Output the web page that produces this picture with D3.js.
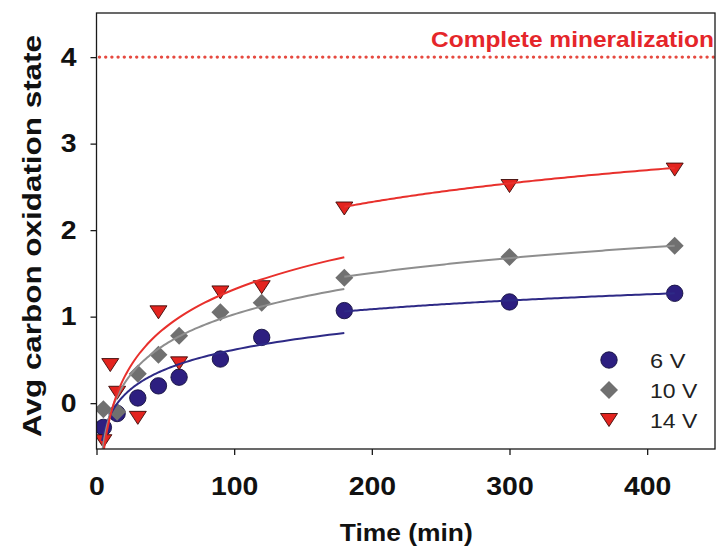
<!DOCTYPE html>
<html>
<head>
<meta charset="utf-8">
<script src="https://cdn.jsdelivr.net/npm/d3@7/dist/d3.min.js"></script>
<style>
  html, body { margin: 0; padding: 0; background: #ffffff; }
  svg { display: block; font-family: "Liberation Sans", Arial, sans-serif; }
</style>
</head>
<body>
<svg id="chart" width="717" height="550"></svg>
<script>
// Sampling times (min)
const timeMain = [5, 15, 30, 45, 60, 90, 120, 180, 300, 420];
const time14 = [5, 10, 15, 30, 45, 60, 90, 120, 180, 300, 420];

// Average carbon oxidation state for each applied voltage
const ox6V  = [-0.28, -0.12, 0.06, 0.20, 0.30, 0.51, 0.76, 1.07, 1.17, 1.27];
const ox10V = [-0.07, -0.10, 0.34, 0.56, 0.78, 1.05, 1.16, 1.45, 1.69, 1.82];
const ox14V = [-0.44, 0.44, 0.12, -0.17, 1.05, 0.46, 1.28, 1.34, 2.25, 2.51, 2.70];

// Logarithmic regression y = a*ln(t) + b, fitted over two time windows
const fitWindows = [[4, 180], [180, 420]];
const fit6V  = [{a: 0.328, b: -0.893}, {a: 0.248, b: -0.228}];
const fit10V = [{a: 0.500, b: -1.276}, {a: 0.425, b: -0.747}];
const fit14V = [{a: 0.635, b: -1.610}, {a: 0.531, b: -0.488}];

const xTicks = [0, 100, 200, 300, 400];
const yTicks = [0, 1, 2, 3, 4];
const mineralizationLevel = 4;

const series = [
  {name: "6 V",  t: timeMain, y: ox6V,  fit: fit6V,  shape: "circle",   fill: "#2d1f80", stroke: "#141040", line: "#2e2a86"},
  {name: "10 V", t: timeMain, y: ox10V, fit: fit10V, shape: "diamond",  fill: "#707070", stroke: "none",    line: "#8e8e8e"},
  {name: "14 V", t: time14,   y: ox14V, fit: fit14V, shape: "triangle", fill: "#e3241f", stroke: "#3a0a08", line: "#e8302c"}
];

const svg = d3.select("#chart");
const plotLeft = 96.5, plotRight = 716, plotTop = 13, plotBottom = 449;

const x = d3.scaleLinear().domain([0, 450]).range([plotLeft, plotRight]);
const y = d3.scaleLinear().domain([-0.53, 4.51]).range([plotBottom, plotTop]);

svg.append("defs").append("clipPath").attr("id", "plotClip")
  .append("rect").attr("x", plotLeft).attr("y", plotTop)
  .attr("width", plotRight - plotLeft).attr("height", plotBottom - plotTop);

// Marker shapes
function markerPath(shape) {
  if (shape === "circle") return d3.symbol(d3.symbolCircle, Math.PI * 8.2 * 8.2)();
  if (shape === "diamond") return "M0,-9L9,0L0,9L-9,0Z";
  return "M-8.5,-6.5L8.5,-6.5L0,6.5Z";
}

// Target level line
svg.append("line")
  .attr("x1", plotLeft + 3).attr("x2", plotRight)
  .attr("y1", y(mineralizationLevel)).attr("y2", y(mineralizationLevel))
  .attr("stroke", "#e64a40").attr("stroke-width", 3.4)
  .attr("stroke-linecap", "round").attr("stroke-dasharray", "0 6.2");

svg.append("text")
  .attr("x", 714).attr("y", 47)
  .attr("text-anchor", "end")
  .attr("font-size", 22).attr("font-weight", "bold")
  .attr("fill", "#e5262a")
  .attr("textLength", 283).attr("lengthAdjust", "spacingAndGlyphs")
  .text("Complete mineralization");

const plot = svg.append("g").attr("clip-path", "url(#plotClip)");

// Data markers
series.forEach(s => {
  plot.append("g").selectAll("path")
    .data(s.t.map((t, i) => [t, s.y[i]]))
    .join("path")
    .attr("transform", d => `translate(${x(d[0])},${y(d[1])})`)
    .attr("d", markerPath(s.shape))
    .attr("fill", s.fill)
    .attr("stroke", s.stroke)
    .attr("stroke-width", 0.9);
});

// Regression curves
const curve = d3.line().x(d => x(d[0])).y(d => y(d[1]));
series.forEach(s => {
  s.fit.forEach((f, k) => {
    const [t0, t1] = fitWindows[k];
    const pts = d3.range(0, 121).map(i => {
      const t = t0 * Math.pow(t1 / t0, i / 120);
      return [t, f.a * Math.log(t) + f.b];
    });
    plot.append("path")
      .attr("d", curve(pts))
      .attr("fill", "none")
      .attr("stroke", s.line)
      .attr("stroke-width", 2);
  });
});

// Frame
svg.append("rect")
  .attr("x", plotLeft).attr("y", plotTop)
  .attr("width", plotRight - plotLeft - 1).attr("height", plotBottom - plotTop)
  .attr("fill", "none").attr("stroke", "#1a1a1a").attr("stroke-width", 1.3);

// Axes
const fmt = d3.format("d");
const xAxis = svg.append("g").attr("transform", `translate(0,${plotBottom})`)
  .call(d3.axisBottom(x).tickValues(xTicks).tickFormat(fmt)
    .tickSize(6).tickPadding(22).tickSizeOuter(0));
const yAxis = svg.append("g").attr("transform", `translate(${plotLeft},0)`)
  .call(d3.axisLeft(y).tickValues(yTicks).tickFormat(fmt)
    .tickSize(6).tickPadding(14).tickSizeOuter(0));

[xAxis, yAxis].forEach(g => {
  g.select(".domain").remove();
  g.selectAll(".tick line").attr("stroke", "#1a1a1a").attr("stroke-width", 1.3);
  g.selectAll(".tick text")
    .attr("font-family", "'Liberation Sans', Arial, sans-serif")
    .attr("font-size", 25).attr("font-weight", "bold").attr("fill", "#111")
    .attr("textLength", d => fmt(d).length * 15.8)
    .attr("lengthAdjust", "spacingAndGlyphs");
});
xAxis.selectAll(".tick text").attr("dy", "0.71em");

// Axis titles
svg.append("text")
  .attr("x", (plotLeft + plotRight) / 2).attr("y", 541)
  .attr("text-anchor", "middle")
  .attr("font-size", 23).attr("font-weight", "bold").attr("fill", "#111")
  .attr("textLength", 133).attr("lengthAdjust", "spacingAndGlyphs")
  .text("Time (min)");

svg.append("text")
  .attr("transform", "translate(41,236) rotate(-90)")
  .attr("text-anchor", "middle")
  .attr("font-size", 25).attr("font-weight", "bold").attr("fill", "#111")
  .attr("textLength", 402).attr("lengthAdjust", "spacingAndGlyphs")
  .text("Avg carbon oxidation state");

// Legend
const legend = svg.append("g");
series.forEach((s, i) => {
  const ly = 360 + i * 30;
  legend.append("path")
    .attr("transform", `translate(609,${ly})`)
    .attr("d", markerPath(s.shape))
    .attr("fill", s.fill).attr("stroke", s.stroke).attr("stroke-width", 0.9);
  legend.append("text")
    .attr("x", 650).attr("y", ly + 7.5)
    .attr("font-size", 21).attr("fill", "#222")
    .attr("textLength", s.name.length * 11.8).attr("lengthAdjust", "spacingAndGlyphs")
    .text(s.name);
});
</script>
</body>
</html>
